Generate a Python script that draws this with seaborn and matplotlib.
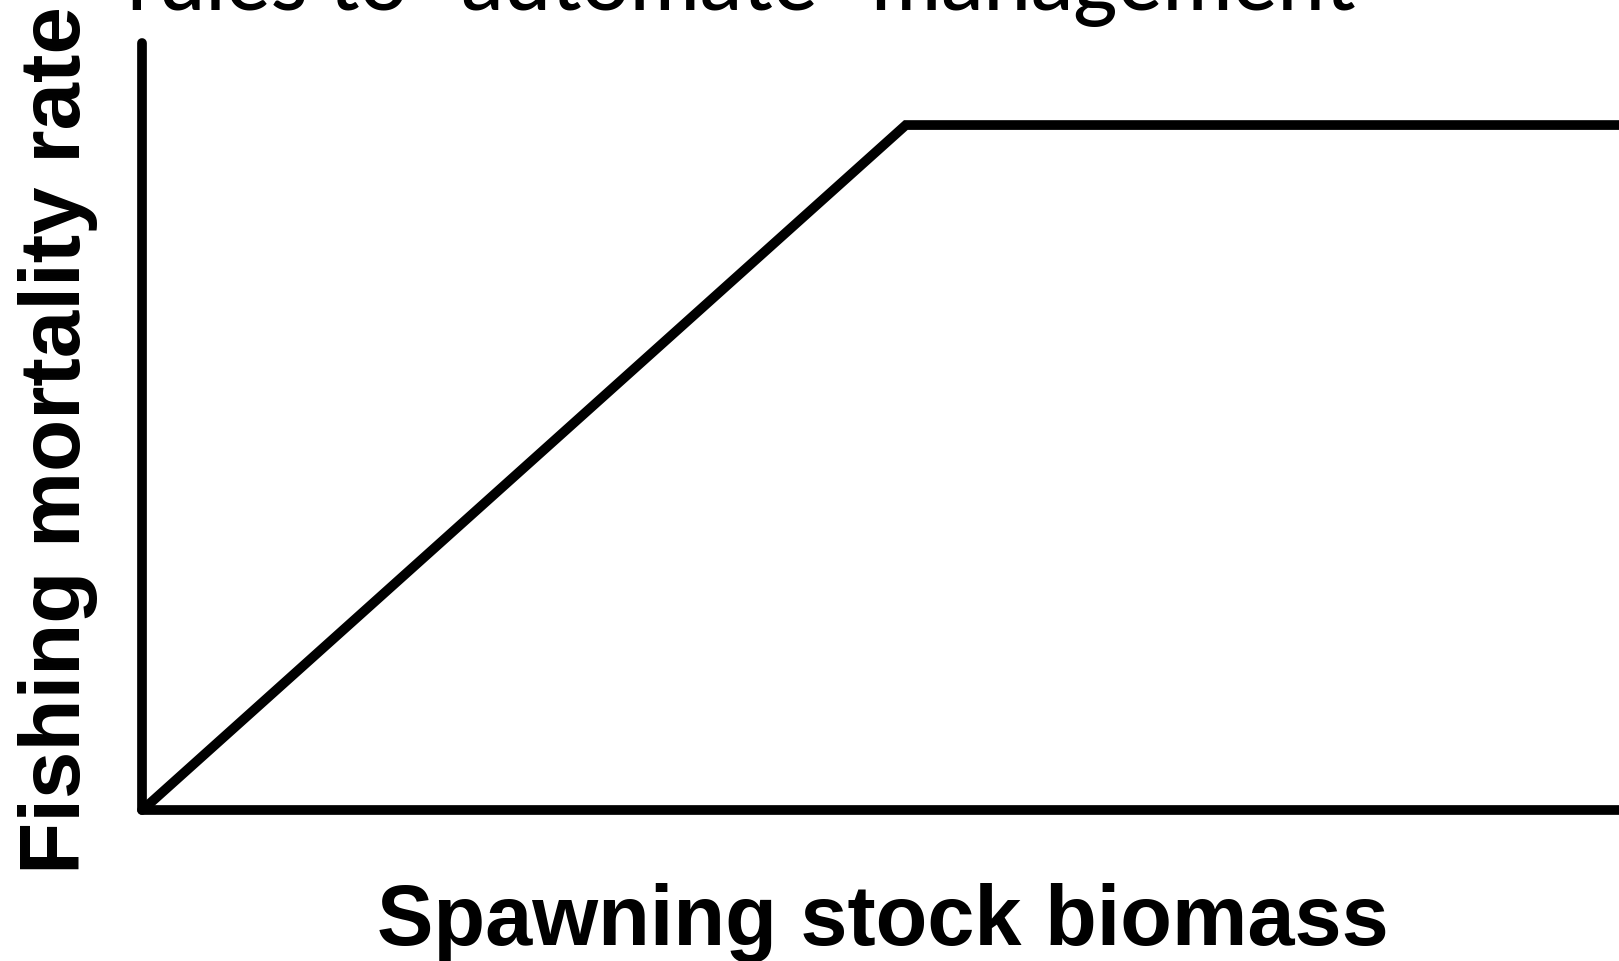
import matplotlib
matplotlib.use("Agg")
import matplotlib.pyplot as plt
import seaborn as sns
import pandas as pd

# harvest control rule: F rises linearly with SSB up to the trigger, then flat
ssb = [0.0, 0.517, 1.0]
fmort = [0.0, 0.893, 0.893]
title_line = 'rules to "automate" management'
xlab = "Spawning stock biomass"
ylab = "Fishing mortality rate"

df = pd.DataFrame({"ssb": ssb, "F": fmort})

sns.set_style("white")
plt.rcParams["font.family"] = ["Liberation Sans", "DejaVu Sans"]
plt.rcParams["text.color"] = "black"
plt.rcParams["axes.labelcolor"] = "black"

fig = plt.figure(figsize=(16.19, 9.61), dpi=100)
ax = fig.add_axes([0.088, 0.1571, 0.912, 0.7982])

sns.lineplot(data=df, x="ssb", y="F", ax=ax, color="black", linewidth=7,
             clip_on=False, solid_capstyle="butt", solid_joinstyle="miter")

ax.set_xlim(0, 1)
ax.set_ylim(0, 1)
ax.set_xticks([])
ax.set_yticks([])
for side in ["top", "right"]:
    ax.spines[side].set_visible(False)
for side in ["left", "bottom"]:
    ax.spines[side].set_color("black")
    ax.spines[side].set_linewidth(7)
    ax.spines[side].set_capstyle("round")

ax.set_xlabel(xlab, fontsize=61, fontweight="bold", va="baseline")
ax.xaxis.set_label_coords(0.5015, -0.176)
ax.set_ylabel(ylab, fontsize=61.5, fontweight="bold", va="bottom")
ax.yaxis.set_label_coords(-0.0301, 0.482)

# top of the title is cut off in the original
fig.text(127 / 1619, 1 - 10 / 961, title_line, fontsize=61, family="Lato",
         fontweight="medium", ha="left", va="baseline")

fig.savefig("out.png", dpi=100)
